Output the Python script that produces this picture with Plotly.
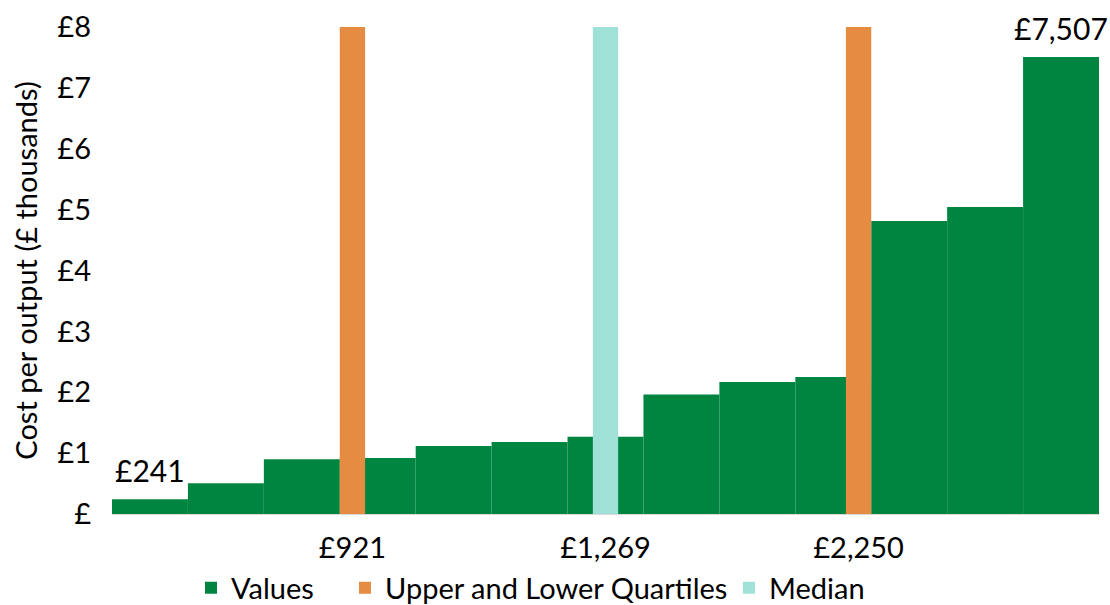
import plotly.graph_objects as go

# Cost per output for each unit, sorted ascending (£ thousands)
values = [0.241, 0.504, 0.898, 0.921, 1.117, 1.183, 1.269,
          1.962, 2.170, 2.250, 4.813, 5.043, 7.507]

# Summary statistics (£ thousands)
lower_quartile = 0.921
median = 1.269
upper_quartile = 2.250

y_max = 8
y_tick_vals = list(range(0, 9))
y_tick_text = ["£"] + [f"£{v}" for v in y_tick_vals[1:]]

GREEN = "#008540"
ORANGE = "#E68B42"
TEAL = "#A0E1D7"
FONT = "Lato, 'Open Sans', sans-serif"

PLOT_L, PLOT_R, PLOT_T, PLOT_B = 112, 11, 27, 91
W, H = 1110, 605
plot_w = W - PLOT_L - PLOT_R

x_vals = list(range(len(values)))

# marker bars sit in a third of the bar whose value they equal
lq_x = values.index(lower_quartile) - 1 / 3
med_x = values.index(median)
uq_x = values.index(upper_quartile) + 1 / 3

fig = go.Figure()

fig.add_trace(go.Bar(
    x=x_vals, y=values, width=1.0, name="Values", legend="legend",
    marker=dict(color=GREEN, line=dict(width=0)),
))

fig.add_trace(go.Bar(
    x=[lq_x, uq_x], y=[y_max, y_max], width=1 / 3,
    name="Upper and Lower Quartiles", legend="legend2",
    marker=dict(color=ORANGE, line=dict(width=0)),
))

fig.add_trace(go.Bar(
    x=[med_x], y=[y_max], width=1 / 3, name="Median", legend="legend3",
    marker=dict(color=TEAL, line=dict(width=0)),
))

# value labels on the first and last bars
for i in (0, len(values) - 1):
    fig.add_annotation(
        x=i, y=values[i], text=f"£{values[i] * 1000:,.0f}",
        showarrow=False, yanchor="bottom", yshift=9,
        font=dict(size=30, color="#000000", family=FONT),
    )


def legend_at(px):
    """Legend box placed so its swatch sits near pixel column px."""
    return dict(
        orientation="h", x=(px - PLOT_L) / plot_w, xanchor="left",
        y=-0.152, yanchor="middle", font=dict(size=29, family=FONT),
        bgcolor="rgba(0,0,0,0)", itemwidth=30,
    )


fig.update_layout(
    width=W, height=H,
    margin=dict(l=PLOT_L, r=PLOT_R, t=PLOT_T, b=PLOT_B, autoexpand=False),
    barmode="overlay",
    plot_bgcolor="white", paper_bgcolor="white",
    font=dict(family=FONT, size=29, color="#000000"),
    showlegend=True,
    legend=legend_at(191),
    legend2=legend_at(345),
    legend3=legend_at(729),
    xaxis=dict(
        range=[-0.5, len(values) - 0.5],
        tickvals=[lq_x, med_x, uq_x],
        ticktext=[f"£{v * 1000:,.0f}" for v in (lower_quartile, median, upper_quartile)],
        ticks="", showgrid=False, zeroline=False,
        showline=True, linecolor="#d9d9d9", linewidth=1,
        tickfont=dict(size=29), ticklabelstandoff=8,
    ),
    yaxis=dict(
        range=[0, y_max],
        tickvals=y_tick_vals, ticktext=y_tick_text,
        ticks="", showgrid=False, zeroline=False, showline=False,
        tickfont=dict(size=29), ticklabelstandoff=20,
        title=dict(text="Cost per output (£ thousands)", font=dict(size=29), standoff=11),
    ),
)

fig.write_html("out.html")
